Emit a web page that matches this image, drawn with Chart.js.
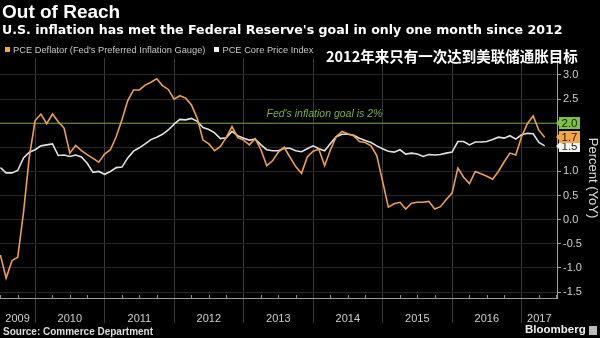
<!DOCTYPE html>
<html>
<head>
<meta charset="utf-8">
<script src="https://cdn.jsdelivr.net/npm/chart.js@4.4.1/dist/chart.umd.min.js"></script>
<style>
  html, body { margin: 0; padding: 0; background: #000; }
  #wrap { position: relative; width: 600px; height: 338px; overflow: hidden; background: #000;
          font-family: "Liberation Sans", Arial, sans-serif; }
  #wrap canvas { position: absolute; left: 0; top: 0; }
  .t { position: absolute; white-space: nowrap; line-height: 1; color: #fff; }
  #title { left: 2px; top: 2px; font-size: 19px; font-weight: bold; }
  #subtitle { left: 2px; top: 23.5px; font-size: 12.6px; font-weight: bold; font-family: "DejaVu Sans", sans-serif; }
  #legend { left: 5px; top: 46px; font-size: 9.3px; color: #c8c8c8; }
  #legend span.sw { display: inline-block; width: 5px; height: 5px; margin-right: 3px; vertical-align: 1px; }
  #legend span.item { margin-right: 9px; }
  #cn { left: 326px; top: 48.5px; font-size: 14.5px; font-weight: bold; font-family: "Noto Sans CJK SC", sans-serif; }
  #source { left: 3px; top: 327px; font-size: 10px; font-weight: bold; color: #ddd; }
  #brand { left: 525px; top: 324px; font-size: 11.5px; font-weight: bold; color: #eee; }
  #logo { position: absolute; left: 589px; top: 326px; width: 8px; height: 9px; background: #bbb; }
</style>
</head>
<body>
<div id="wrap">
  <canvas id="chart" width="600" height="338"></canvas>
  <div class="t" id="title">Out of Reach</div>
  <div class="t" id="subtitle">U.S. inflation has met the Federal Reserve's goal in only one month since 2012</div>
  <div class="t" id="legend"></div>
  <div class="t" id="cn">2012年来只有一次达到美联储通胀目标</div>
  <div class="t" id="source">Source: Commerce Department</div>
  <div class="t" id="brand">Bloomberg</div>
  <div id="logo"></div>
</div>
<script>
// monthly year-over-year readings, first point is June 2009
const startYear = 2009;
const startMonth = 6;

const deflator = [
  -0.73, -1.21, -0.85, -0.78, 0.15, 1.30, 2.05,                          // 2009
  2.19, 1.99, 2.19, 2.03, 1.90, 1.38, 1.54, 1.43, 1.35, 1.27, 1.19, 1.36, // 2010
  1.45, 1.72, 2.07, 2.47, 2.69, 2.69, 2.79, 2.85, 2.92, 2.78, 2.70, 2.50, // 2011
  2.57, 2.52, 2.38, 2.10, 1.65, 1.57, 1.43, 1.52, 1.70, 1.93, 1.70, 1.65, // 2012
  1.55, 1.68, 1.45, 1.12, 1.22, 1.40, 1.50, 1.30, 1.10, 0.96, 1.30, 1.42, // 2013
  1.46, 1.12, 1.45, 1.72, 1.83, 1.78, 1.74, 1.62, 1.60, 1.53, 1.33, 0.80, // 2014
  0.26, 0.33, 0.36, 0.22, 0.34, 0.36, 0.36, 0.38, 0.22, 0.27, 0.42, 0.55, // 2015
  1.07, 0.88, 0.75, 1.00, 0.95, 0.90, 0.84, 1.00, 1.20, 1.38, 1.34, 1.72, // 2016
  1.99, 2.15, 1.85, 1.71                                                  // 2017
];

const core = [
  1.08, 0.97, 0.97, 1.02, 1.28, 1.40, 1.45,                               // 2009
  1.53, 1.55, 1.57, 1.33, 1.34, 1.31, 1.34, 1.30, 1.17, 0.98, 1.00, 0.94, // 2010
  1.00, 1.08, 1.09, 1.28, 1.42, 1.49, 1.57, 1.66, 1.71, 1.77, 1.86, 1.98, // 2011
  2.08, 2.07, 2.10, 2.04, 1.91, 1.87, 1.80, 1.68, 1.70, 1.83, 1.74, 1.69, // 2012
  1.65, 1.67, 1.55, 1.45, 1.43, 1.43, 1.48, 1.48, 1.43, 1.41, 1.47, 1.53, // 2013
  1.47, 1.43, 1.58, 1.72, 1.77, 1.77, 1.75, 1.69, 1.64, 1.60, 1.53, 1.47, // 2014
  1.42, 1.40, 1.45, 1.36, 1.38, 1.36, 1.31, 1.35, 1.34, 1.35, 1.38, 1.40, // 2015
  1.62, 1.62, 1.55, 1.61, 1.61, 1.62, 1.66, 1.71, 1.69, 1.74, 1.67, 1.76, // 2016
  1.79, 1.78, 1.60, 1.53                                                  // 2017
];

const years = [2009, 2010, 2011, 2012, 2013, 2014, 2015, 2016, 2017];
const yTicks = [-1.5, -1.0, -0.5, 0.0, 0.5, 1.0, 1.5, 2.0, 2.5, 3.0];

const goal = 2.0;
const goalLabel = "Fed's inflation goal is 2%";
const goalLabelAt = 2013.33;

const seriesNames = ["PCE Deflator (Fed's Preferred Inflation Gauge)", "PCE Core Price Index"];

const xMin = 2009.495, xMax = 2017.51;
const yMin = -1.624, yMax = 3.352;

const ORANGE = '#eda04e';
const WHITE = '#e2e2e2';
const GREEN = '#6f9f3c';

// points sit at the end of their month
function toPoints(values) {
  return values.map((v, i) => ({ x: startYear + (startMonth + i) / 12, y: v }));
}

const overlays = {
  id: 'overlays',
  afterDraw(chart) {
    const { ctx, chartArea, scales: { x, y } } = chart;
    ctx.save();

    // quarter marks on the time axis
    ctx.strokeStyle = '#8a8a8a';
    ctx.lineWidth = 1;
    years.forEach(yr => [0.25, 0.5, 0.75].forEach(q => {
      const v = yr + q;
      if (v <= xMin || v >= xMax) return;
      const px = Math.round(x.getPixelForValue(v)) + 0.5;
      ctx.beginPath();
      ctx.moveTo(px, chartArea.bottom - 3);
      ctx.lineTo(px, chartArea.bottom);
      ctx.stroke();
    }));

    // caption above the goal line
    ctx.font = 'italic 10.5px "Liberation Sans", Arial, sans-serif';
    ctx.fillStyle = '#79b043';
    ctx.textAlign = 'left';
    ctx.textBaseline = 'alphabetic';
    ctx.fillText(goalLabel, x.getPixelForValue(goalLabelAt), y.getPixelForValue(goal) - 6);

    // last-value tags on the right axis
    const tags = [
      { v: core[core.length - 1], fill: '#f2f2f2' },
      { v: deflator[deflator.length - 1], fill: '#f4a649' },
      { v: goal, fill: '#7cc241' }
    ];
    ctx.font = '11.5px "Liberation Sans", Arial, sans-serif';
    ctx.textAlign = 'center';
    ctx.textBaseline = 'middle';
    tags.forEach(t => {
      const cy = Math.round(y.getPixelForValue(t.v));
      const left = chartArea.right + 2, w = 21, h = 12;
      ctx.fillStyle = t.fill;
      ctx.beginPath();
      ctx.moveTo(chartArea.right - 1, cy);
      ctx.lineTo(left, cy - 3);
      ctx.lineTo(left, cy - h / 2);
      ctx.lineTo(left + w, cy - h / 2);
      ctx.lineTo(left + w, cy + h / 2);
      ctx.lineTo(left, cy + h / 2);
      ctx.lineTo(left, cy + 3);
      ctx.closePath();
      ctx.fill();
      ctx.fillStyle = '#1a1a1a';
      ctx.fillText(t.v.toFixed(1), left + w / 2, cy + 0.5);
    });
    ctx.restore();
  }
};

const chart = new Chart(document.getElementById('chart'), {
  type: 'line',
  data: {
    datasets: [
      { label: seriesNames[0], data: toPoints(deflator), borderColor: ORANGE, borderWidth: 1.6 },
      { label: seriesNames[1], data: toPoints(core), borderColor: WHITE, borderWidth: 1.6 },
      { label: 'goal', data: [{ x: xMin, y: goal }, { x: xMax, y: goal }], borderColor: GREEN, borderWidth: 1 }
    ]
  },
  options: {
    responsive: false,
    animation: false,
    layout: { padding: { top: 58, left: 0, right: 0, bottom: 0 } },
    elements: { point: { radius: 0 }, line: { tension: 0 } },
    plugins: { legend: { display: false }, tooltip: { enabled: false } },
    scales: {
      x: {
        type: 'linear',
        min: xMin,
        max: xMax,
        afterBuildTicks: scale => {
          const t = [];
          years.forEach(yr => {
            if (yr > xMin && yr < xMax) t.push({ value: yr });
            const lo = Math.max(yr, xMin), hi = Math.min(yr + 1, xMax);
            t.push({ value: (lo + hi) / 2 });
          });
          scale.ticks = t.sort((a, b) => a.value - b.value);
        },
        afterFit: scale => { scale.height = 40; },
        grid: {
          color: c => (c.tick && Number.isInteger(c.tick.value)) ? '#3a3a3a' : 'rgba(0,0,0,0)',
          tickLength: 25
        },
        border: { display: true, color: '#9a9a9a' },
        ticks: {
          autoSkip: false,
          maxRotation: 0,
          padding: -11,
          color: '#cfcfcf',
          font: { family: '"Liberation Sans", Arial, sans-serif', size: 11 },
          callback: v => Number.isInteger(v) ? '' : String(Math.floor(v))
        }
      },
      y: {
        position: 'right',
        min: yMin,
        max: yMax,
        afterBuildTicks: scale => { scale.ticks = yTicks.map(v => ({ value: v })); },
        afterFit: scale => { scale.width = 43; },
        grid: { color: '#272727', tickColor: '#a0a0a0', tickLength: 4 },
        border: { display: true, color: '#a0a0a0' },
        ticks: {
          padding: 2,
          color: '#cfcfcf',
          font: { family: '"Liberation Sans", Arial, sans-serif', size: 11 },
          callback: v => v.toFixed(1)
        },
        title: {
          display: true,
          text: 'Percent (YoY)',
          color: '#dcdcdc',
          padding: 0,
          font: { family: '"Liberation Sans", Arial, sans-serif', size: 13 }
        }
      }
    }
  },
  plugins: [overlays]
});

// legend keys for the two measures
const legend = document.getElementById('legend');
chart.data.datasets.slice(0, 2).forEach(ds => {
  const item = document.createElement('span');
  item.className = 'item';
  const sw = document.createElement('span');
  sw.className = 'sw';
  sw.style.background = ds.label === seriesNames[0] ? '#f4a649' : '#f2f2f2';
  item.appendChild(sw);
  item.appendChild(document.createTextNode(ds.label));
  legend.appendChild(item);
});
</script>
</body>
</html>
